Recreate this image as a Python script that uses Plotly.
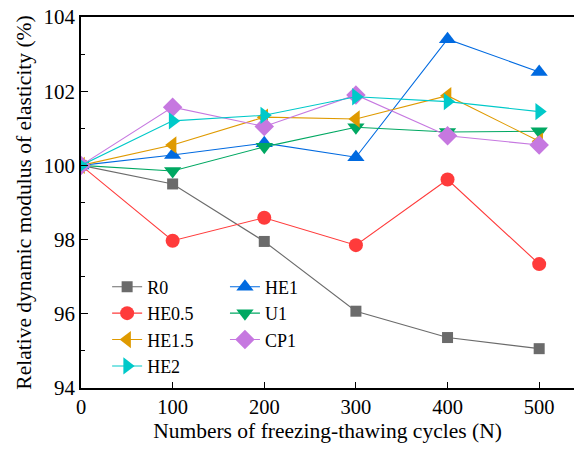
import plotly.graph_objects as go

cycles = [0, 100, 200, 300, 400, 500]
R0 = [100, 99.50, 97.95, 96.07, 95.36, 95.06]
HE05 = [100, 97.97, 98.59, 97.85, 99.62, 97.34]
HE1 = [100, 100.28, 100.60, 100.22, 103.40, 102.52]
U1 = [100, 99.85, 100.50, 101.03, 100.90, 100.92]
HE15 = [100, 100.55, 101.30, 101.25, 101.88, 100.65]
CP1 = [100, 101.57, 101.05, 101.90, 100.80, 100.55]
HE2 = [100, 101.20, 101.35, 101.85, 101.72, 101.45]

series = [
    ("R0", R0, "#6b6b6b", "square", 11, "legend"),
    ("HE0.5", HE05, "#ff3b3b", "circle", 14, "legend"),
    ("HE1.5", HE15, "#df9a00", "triangle-left", 15, "legend"),
    ("HE2", HE2, "#00c9c9", "triangle-right", 15, "legend"),
    ("HE1", HE1, "#006ae0", "triangle-up", 15, "legend2"),
    ("U1", U1, "#00a862", "triangle-down", 15, "legend2"),
    ("CP1", CP1, "#c678e0", "diamond", 15, "legend2"),
]

fig = go.Figure()
order = ["R0", "HE0.5", "HE1", "U1", "HE1.5", "CP1", "HE2"]
lookup = {s[0]: s for s in series}
for name in order:
    n, ys, col, sym, sz, leg = lookup[name]
    fig.add_trace(go.Scatter(
        x=cycles, y=ys, name=n, mode="lines+markers",
        line=dict(color=col, width=1.1),
        marker=dict(symbol=sym, size=sz, color=col),
        legend=leg,
    ))

font = "Liberation Serif"
legfont = dict(family=font, size=18, color="black")
fig.update_layout(
    width=574, height=453,
    margin=dict(l=81, r=0, t=17, b=65),
    plot_bgcolor="white", paper_bgcolor="white",
    font=dict(family=font, size=20, color="black"),
    legend=dict(x=0.053, y=0.322, xanchor="left", yanchor="top",
                bgcolor="rgba(0,0,0,0)", font=legfont,
                traceorder="normal", tracegroupgap=0, itemwidth=30),
    legend2=dict(x=0.292, y=0.322, xanchor="left", yanchor="top",
                 bgcolor="rgba(0,0,0,0)", font=legfont,
                 traceorder="normal", tracegroupgap=0, itemwidth=30),
    xaxis=dict(range=[0, 538], tickvals=[0, 100, 200, 300, 400, 500],
               ticks="inside", ticklen=6, tickwidth=1.3, tickcolor="black",
               showline=True, linecolor="black", linewidth=1.6, mirror=True,
               showgrid=False, zeroline=False,
               title=dict(text="Numbers of freezing-thawing cycles (N)", standoff=6,
                          font=dict(family=font, size=21.5, color="black")),
               tickfont=dict(family=font, size=20.5, color="black")),
    yaxis=dict(range=[94, 104], tickvals=[94, 96, 98, 100, 102, 104],
               ticks="inside", ticklen=7, tickwidth=1.3, tickcolor="black",
               minor=dict(tickvals=[95, 97, 99, 101, 103], ticks="inside", ticklen=4, tickcolor="black"),
               showline=True, linecolor="black", linewidth=1.6,
               showgrid=False, zeroline=False,
               title=dict(text="Relative dynamic modulus of elasticity (%)", standoff=6,
                          font=dict(family=font, size=21.5, color="black")),
               tickfont=dict(family=font, size=21, color="black")),
)

fig.write_html("out.html")
